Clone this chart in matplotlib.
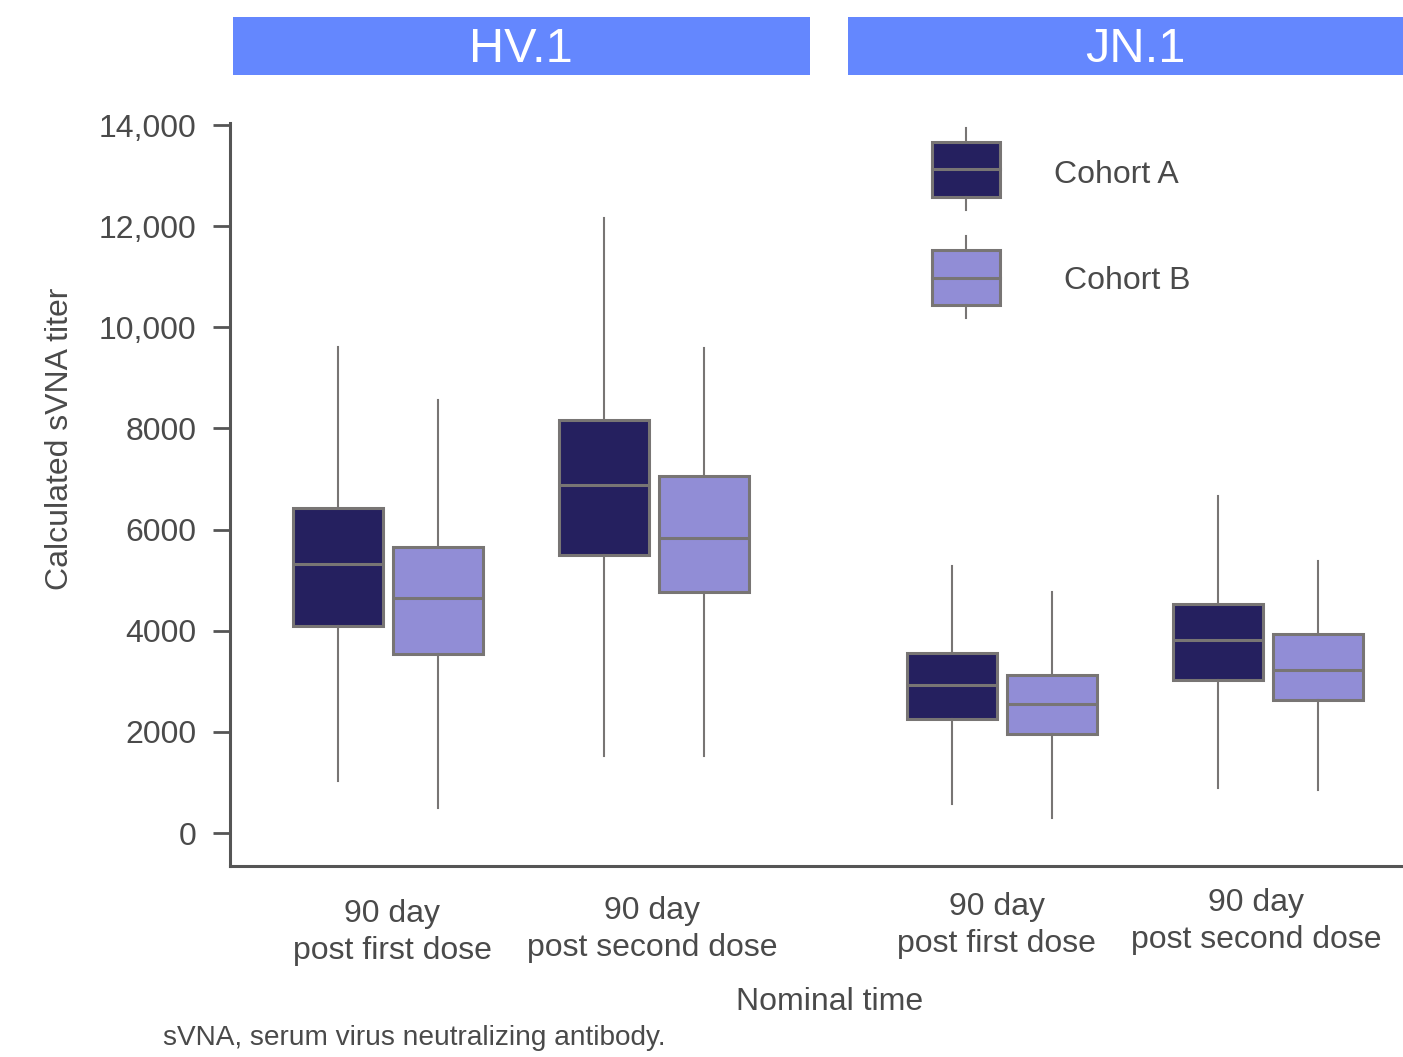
import matplotlib
matplotlib.use("Agg")
import matplotlib.pyplot as plt
from matplotlib.patches import Rectangle
from matplotlib.lines import Line2D
import matplotlib.transforms as mtransforms

plt.rcParams['font.family'] = ['Liberation Sans', 'DejaVu Sans']

# ---------------- data ----------------
variants = ["HV.1", "JN.1"]
timepoints = ["90 day\npost first dose", "90 day\npost second dose"]
cohorts = ["Cohort A", "Cohort B"]
# order: HV.1 first, HV.1 second, JN.1 first, JN.1 second
cohort_a_whislo = [1030, 1520, 570, 890]
cohort_a_q1 = [4090, 5500, 2250, 3020]
cohort_a_med = [5320, 6880, 2930, 3820]
cohort_a_q3 = [6430, 8170, 3560, 4530]
cohort_a_whishi = [9610, 12160, 5280, 6660]

cohort_b_whislo = [490, 1520, 300, 850]
cohort_b_q1 = [3540, 4770, 1960, 2630]
cohort_b_med = [4650, 5830, 2550, 3220]
cohort_b_q3 = [5660, 7060, 3120, 3930]
cohort_b_whishi = [8560, 9590, 4770, 5380]

y_ticks = [0, 2000, 4000, 6000, 8000, 10000, 12000, 14000]
y_tick_labels = ["0", "2000", "4000", "6000", "8000", "10,000", "12,000", "14,000"]

# ---------------- layout ----------------
W, H = 1403, 1057
group_pos = [0.0, 1.0, 2.31, 3.31]
offset = 0.188
box_w = 0.338
label_x = [0.015, 0.992, 2.289, 3.263]
label_y = [-0.045, -0.041, -0.035, -0.030]  # axes fraction (top of text)
FS = 23

col_a = "#25205F"
col_b = "#918DD6"
edge = "#787574"
axis_col = "#555555"
text_col = "#4a4a4a"

fig = plt.figure(figsize=(W / 100, H / 100), dpi=100)
ax_left, ax_right = 230 / W, 1.0
ax_bottom, ax_top = (H - 866) / H, (H - 123) / H
ax = fig.add_axes([ax_left, ax_bottom, ax_right - ax_left, ax_top - ax_bottom])


def stats(lo, q1, med, q3, hi):
    return [dict(whislo=a, q1=b, med=c, q3=d, whishi=e, fliers=[])
            for a, b, c, d, e in zip(lo, q1, med, q3, hi)]


common = dict(showfliers=False, showcaps=False, patch_artist=True, widths=box_w,
              medianprops=dict(color=edge, linewidth=2.2),
              whiskerprops=dict(color=edge, linewidth=1.5),
              manage_ticks=False)

ax.bxp(stats(cohort_a_whislo, cohort_a_q1, cohort_a_med, cohort_a_q3, cohort_a_whishi),
       positions=[p - offset for p in group_pos],
       boxprops=dict(facecolor=col_a, edgecolor=edge, linewidth=2.2), **common)
ax.bxp(stats(cohort_b_whislo, cohort_b_q1, cohort_b_med, cohort_b_q3, cohort_b_whishi),
       positions=[p + offset for p in group_pos],
       boxprops=dict(facecolor=col_b, edgecolor=edge, linewidth=2.2), **common)

ax.set_xlim(-0.594, 3.816)
ax.set_ylim(-652, 14040)
ax.set_yticks(y_ticks)
ax.set_yticklabels(y_tick_labels)
ax.set_xticks([])
ax.tick_params(axis='y', direction='out', length=12, width=2, color=axis_col,
               labelsize=FS, labelcolor=text_col, pad=12)
for s in ["top", "right"]:
    ax.spines[s].set_visible(False)
for s in ["left", "bottom"]:
    ax.spines[s].set_color(axis_col)
    ax.spines[s].set_linewidth(2.2)
ax.set_facecolor("white")

# x category labels
trans = mtransforms.blended_transform_factory(ax.transData, ax.transAxes)
for i, lab in enumerate(timepoints * 2):
    ax.text(label_x[i], label_y[i], lab, transform=trans, ha='center', va='top',
            fontsize=FS, color=text_col, linespacing=1.3)

ax.set_ylabel("Calculated sVNA titer", fontsize=FS, color=text_col)
ax.yaxis.set_label_coords(-0.1325, 0.575)

fig.text(830 / W, 1 - 1002 / H, "Nominal time", ha='center', va='center',
         fontsize=FS, color=text_col)
fig.text(163 / W, 1 - 1038 / H, "sVNA, serum virus neutralizing antibody.",
         ha='left', va='center', fontsize=20.2, color=text_col)

# facet strips
strip_col = "#6487FE"
strips = [(233, 810), (848, 1425)]
for (x0, x1), name in zip(strips, variants):
    fig.patches.append(Rectangle((x0 / W, 1 - 75 / H), (x1 - x0) / W, 58 / H,
                                 transform=fig.transFigure, facecolor=strip_col,
                                 edgecolor='none'))
    fig.text((x0 + x1) / 2 / W - 1 / W, 1 - 50 / H, name, ha='center', va='center',
             fontsize=35, color='white')


# legend glyphs
def leg_box(y_top, y_bot, y_med, w_top, w_bot, color, label, tx, ty):
    x0, x1, xc = 932, 1000, 966
    fig.lines.append(Line2D([xc / W, xc / W], [1 - w_top / H, 1 - y_top / H],
                            transform=fig.transFigure, color=edge, lw=1.5))
    fig.lines.append(Line2D([xc / W, xc / W], [1 - y_bot / H, 1 - w_bot / H],
                            transform=fig.transFigure, color=edge, lw=1.5))
    fig.patches.append(Rectangle((x0 / W, 1 - y_bot / H), (x1 - x0) / W, (y_bot - y_top) / H,
                                 transform=fig.transFigure, facecolor=color,
                                 edgecolor=edge, lw=2.2))
    fig.lines.append(Line2D([x0 / W, x1 / W], [1 - y_med / H, 1 - y_med / H],
                            transform=fig.transFigure, color=edge, lw=2.2))
    fig.text(tx / W, 1 - ty / H, label, ha='left', va='center',
             fontsize=FS, color=text_col)


leg_box(142, 197, 169, 128, 210, col_a, cohorts[0], 1054, 175)
leg_box(250, 305, 278, 236, 318, col_b, cohorts[1], 1064, 281)

fig.savefig("out.png", dpi=100, facecolor="white")
